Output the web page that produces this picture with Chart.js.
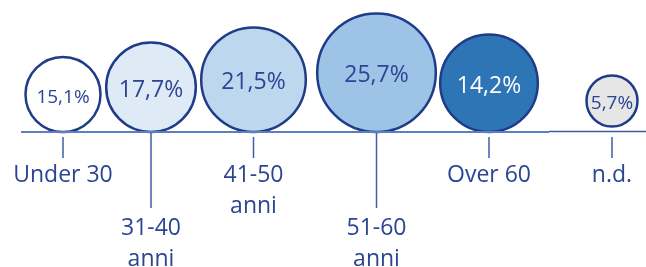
<!DOCTYPE html>
<html>
<head>
<meta charset="utf-8">
<script src="https://cdn.jsdelivr.net/npm/chart.js@4"></script>
<style>
  html, body { margin: 0; padding: 0; background: #fff; }
  #wrap { width: 646px; height: 267px; }
</style>
</head>
<body>
<div id="wrap"><canvas id="myChart" width="646" height="267"></canvas></div>
<script>
// age groups and their share of respondents
const categories = [['Under 30'], ['31-40', 'anni'], ['41-50', 'anni'], ['51-60', 'anni'], ['Over 60'], ['n.d.']];
const shares = [15.1, 17.7, 21.5, 25.7, 14.2, 5.7];
// bubble placement and size
const bubbleX = [63, 151, 253.5, 376.5, 489, 612];
const bubbleR = [37.5, 44.8, 52.3, 59.3, 48.8, 25.5];
const bubbleLift = [0, 0, 0, 0, 0, 5.5];

const fills = ['#ffffff', '#deebf7', '#bdd7ee', '#9dc3e6', '#2e75b6', '#e7e6e6'];
const navy = '#1f3c88';
const textBlue = '#2b4593';

const points = shares.map((v, i) => ({ x: bubbleX[i], y: bubbleR[i] + bubbleLift[i], r: bubbleR[i] }));

const labelsPlugin = {
  id: 'bubbleLabels',
  afterDatasetsDraw(chart) {
    const ctx = chart.ctx;
    const xs = chart.scales.x, ys = chart.scales.y;
    const base = ys.getPixelForValue(0);
    ctx.save();
    // baseline
    ctx.lineWidth = 2;
    ctx.strokeStyle = '#5b7fc0';
    ctx.beginPath();
    ctx.moveTo(xs.getPixelForValue(21), base);
    ctx.lineTo(xs.getPixelForValue(549), base);
    ctx.stroke();
    ctx.lineWidth = 1.5;
    ctx.strokeStyle = '#3a5ca6';
    ctx.beginPath();
    ctx.moveTo(xs.getPixelForValue(549), base - 0.5);
    ctx.lineTo(xs.getPixelForValue(646), base - 0.5);
    ctx.stroke();

    const meta = chart.getDatasetMeta(0);
    meta.data.forEach((el, i) => {
      // value in the bubble
      const small = bubbleR[i] < 40;
      ctx.font = (small ? '19px' : '23px') + ' "Open Sans"';
      ctx.fillStyle = i === 4 ? '#ffffff' : textBlue;
      ctx.textAlign = 'center';
      ctx.textBaseline = 'middle';
      ctx.fillText(shares[i].toFixed(1).replace('.', ',') + '%', el.x, el.y + 3);

      // leader line and category label
      const long = categories[i].length > 1 && (i === 1 || i === 3);
      ctx.strokeStyle = '#3d5ea8';
      ctx.lineWidth = 1.5;
      ctx.beginPath();
      ctx.moveTo(el.x, long ? base + 1 : base + 5);
      ctx.lineTo(el.x, long ? base + 76 : base + 26);
      ctx.stroke();

      ctx.font = '23px "Open Sans"';
      ctx.fillStyle = textBlue;
      ctx.textBaseline = 'alphabetic';
      const first = long ? base + 103 : base + 50;
      categories[i].forEach((line, k) => {
        ctx.fillText(line, el.x, first + k * 31);
      });
    });
    ctx.restore();
  }
};

const data = {
  datasets: [{
    data: points,
    backgroundColor: fills,
    borderColor: navy,
    borderWidth: 2.5,
    clip: false
  }]
};

const config = {
  type: 'bubble',
  data: data,
  options: {
    responsive: false,
    animation: false,
    layout: { padding: 0, autoPadding: false },
    plugins: { legend: { display: false }, tooltip: { enabled: false } },
    scales: {
      x: { type: 'linear', min: 0, max: 646, display: false },
      y: { type: 'linear', min: -135, max: 132, display: false }
    }
  },
  plugins: [labelsPlugin]
};

const myChart = new Chart(document.getElementById('myChart').getContext('2d'), config);
</script>
</body>
</html>
